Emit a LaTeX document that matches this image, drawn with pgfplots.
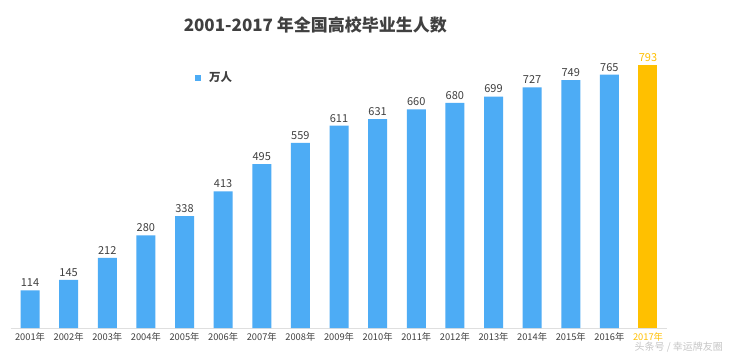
\documentclass[border=0pt]{standalone}
\usepackage{pgfplots}
\pgfplotsset{compat=1.18}
\usepackage{fontspec}
\setmainfont{Noto Sans CJK SC}
\definecolor{barblue}{RGB}{77,172,245}
\definecolor{barorange}{RGB}{255,192,0}
\definecolor{txt}{RGB}{64,64,64}
\begin{document}
\begin{tikzpicture}
\path[use as bounding box] (-10.7pt,-26pt) rectangle ++(735pt,354pt);
\fill[white] (-10.7pt,-26pt) rectangle ++(735pt,354pt);
\begin{axis}[
  scale only axis, width=656.6pt, height=298pt,
  xmin=-0.5, xmax=16.5, ymin=0, ymax=900,
  /pgf/number format/assume math mode=true,
  axis y line=none, axis x line*=bottom,
  x axis line style={draw=gray!25, line width=0.8pt, -},
  xtick={0,...,16}, major tick length=0pt,
  xticklabels={2001年,2002年,2003年,2004年,2005年,2006年,2007年,2008年,2009年,2010年,2011年,2012年,2013年,2014年,2015年,2016年,{\color{barorange}2017年}},
  xticklabel style={font=\fontsize{9.3}{11}\selectfont, text=txt, yshift=-1pt},
  ybar, bar width=19pt, bar shift=0pt,
  nodes near coords,
  every node near coord/.append style={font=\fontsize{11}{13}\selectfont, text=txt, yshift=0pt},
  legend style={at={(0.276,0.84)}, anchor=west, draw=none, fill=none, font=\bfseries\fontsize{11.5}{13}\selectfont, text=txt},
  legend image code/.code={\fill[barblue] (0pt,-3pt) rectangle (6pt,3pt);},
  legend cell align=left,
  clip=false,
]
\addplot[fill=barblue, draw=none] coordinates {
(0,114) (1,145) (2,212) (3,280) (4,338) (5,413) (6,495) (7,559) (8,611) (9,631) (10,660) (11,680) (12,699) (13,727) (14,749) (15,765)};
\addlegendentry{\hspace{6pt}万人}
\addplot[fill=barorange, draw=none, forget plot, every node near coord/.append style={text=barorange}] coordinates {(16,793)};
\node[font=\bfseries\fontsize{17}{19}\selectfont, text=txt] at (rel axis cs:0.464,1.017) {2001-2017 年全国高校毕业生人数};
\node[font=\fontsize{10}{11}\selectfont, text=gray!45, anchor=east, inner sep=0pt] at (rel axis cs:1.085,-0.066) {头条号 / 幸运牌友圈};
\end{axis}
\end{tikzpicture}
\end{document}
